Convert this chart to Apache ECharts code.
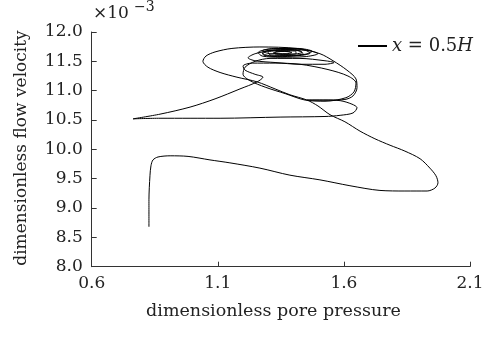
<!DOCTYPE html>
<html><head><meta charset="utf-8">
<script src="https://cdn.jsdelivr.net/npm/echarts@6/dist/echarts.min.js"></script>
<style>html,body{margin:0;padding:0;background:#fff}#c{width:487px;height:340px}</style>
</head><body><div id="c"></div>
<script>
// dimensionless pore pressure (x) and flow velocity (y, x10^-3), trajectory at x = 0.5H
const pressure = [0.827,0.827,0.831,0.835,0.843,0.863,0.911,0.982,1.069,1.148,1.267,1.386,1.505,1.624,1.743,1.842,1.930,1.961,1.973,1.965,1.941,1.902,1.842,1.783,1.723,1.664,1.604,
  1.545,1.497,1.454,1.386,1.327,1.256,1.176,1.109,1.061,1.041,1.053,1.089,1.156,1.267,1.414,1.505,1.557,1.612,1.648,1.652,1.636,1.604,1.545,1.454,1.525,1.585,1.632,1.652,1.636,1.585,1.525,1.347,1.109,0.871,0.764,0.871,0.990,1.089,1.188,1.256,
  1.279,1.247,1.208,1.200,1.236,1.327,1.426,1.537,1.616,1.648,1.640,1.608,1.525,1.446,1.367,1.288,1.228,1.200,1.208,1.248,1.307,
  1.426,1.525,1.561,1.525,1.426,1.327,1.248,1.220,1.248,1.307,1.386,1.466,1.497,1.446,1.347,1.276,1.260,1.307,1.386,1.446,1.466,1.426,1.327,1.280,1.292,1.367,1.426,1.438,1.386,1.307,1.299,1.355,1.410,1.410,1.355,1.319,1.359,1.394,1.371,
  1.307,1.276,1.327,1.418,1.474,1.446,1.355,1.284,1.276,1.339,1.406,1.434,1.386,1.327,1.331,1.386];
const velocity = [8.68,9.14,9.55,9.72,9.82,9.87,9.89,9.88,9.82,9.77,9.68,9.56,9.48,9.38,9.30,9.29,9.29,9.34,9.43,9.55,9.68,9.84,9.97,10.07,10.18,10.31,10.47,
  10.59,10.74,10.84,10.93,11.03,11.15,11.23,11.31,11.40,11.50,11.59,11.66,11.72,11.745,11.72,11.63,11.51,11.35,11.20,11.05,10.91,10.85,10.84,10.84,10.84,10.83,10.77,10.71,10.62,10.58,10.56,10.55,10.53,10.53,10.52,10.60,10.72,10.86,11.03,11.15,
  11.23,11.28,11.35,11.42,11.47,11.47,11.45,11.36,11.25,11.13,10.98,10.88,10.82,10.84,10.95,11.06,11.17,11.28,11.40,11.50,11.55,
  11.55,11.51,11.48,11.45,11.45,11.48,11.51,11.56,11.63,11.68,11.70,11.68,11.63,11.58,11.57,11.59,11.65,11.71,11.72,11.69,11.64,11.60,11.59,11.63,11.68,11.70,11.68,11.63,11.60,11.61,11.66,11.68,11.67,11.63,11.62,11.64,11.67,11.65,11.63,
  11.63,11.68,11.72,11.72,11.67,11.62,11.58,11.60,11.65,11.69,11.69,11.65,11.62,11.63,11.67,11.67];
const xTicks = [0.6, 1.1, 1.6, 2.1];
const yTicks = [8.0, 8.5, 9.0, 9.5, 10.0, 10.5, 11.0, 11.5, 12.0];
const seriesName = 'x = 0.5H';
const xTitle = 'dimensionless pore pressure';
const yTitle = 'dimensionless flow velocity';

const FONT = 'DejaVu Serif';
const chart = echarts.init(document.getElementById('c'), null, {renderer: 'canvas'});
const axisCommon = {
  axisLine: {show: true, lineStyle: {color: '#333', width: 1}},
  axisTick: {show: true, inside: true, length: 5, lineStyle: {color: '#333'}},
  splitLine: {show: false},
  axisLabel: {fontFamily: FONT, fontSize: 17, color: '#222', margin: 8}
};
chart.setOption({
  animation: false,
  backgroundColor: '#fff',
  grid: {left: 91.7, right: 17, top: 32, bottom: 73.3},
  xAxis: Object.assign({}, axisCommon, {
    type: 'value', min: xTicks[0], max: xTicks[xTicks.length - 1],
    axisTick: Object.assign({}, axisCommon.axisTick, {customValues: xTicks}),
    axisLabel: Object.assign({}, axisCommon.axisLabel, {customValues: xTicks, formatter: v => v.toFixed(1)})
  }),
  yAxis: Object.assign({}, axisCommon, {
    type: 'value', min: yTicks[0], max: yTicks[yTicks.length - 1], interval: 0.5,
    axisLabel: Object.assign({}, axisCommon.axisLabel, {margin: 9, formatter: v => v.toFixed(1)})
  }),
  legend: {
    show: true, left: 358, top: 36, padding: 0,
    icon: 'rect', itemWidth: 29, itemHeight: 2,
    data: [seriesName],
    formatter: () => '{i|x} = 0.5{i|H}',
    textStyle: {fontFamily: FONT, fontSize: 18, color: '#222', lineHeight: 20,
      rich: {i: {fontFamily: FONT, fontSize: 18, fontStyle: 'italic', color: '#222'}}}
  },
  graphic: [
    {type: 'text', x: 93, y: 14, style: {text: '×10', font: '17px "DejaVu Serif"', fill: '#222', align: 'left', verticalAlign: 'middle'}},
    {type: 'text', x: 134, y: 7, style: {text: '−3', font: '14px "DejaVu Serif"', fill: '#222', align: 'left', verticalAlign: 'middle'}},
    {type: 'text', x: 273.5, y: 311, style: {text: xTitle, font: '17.5px "DejaVu Serif"', fill: '#222', align: 'center', verticalAlign: 'middle'}},
    {type: 'text', x: 22, y: 148, rotation: Math.PI / 2, style: {text: yTitle, font: '17px "DejaVu Serif"', fill: '#222', align: 'center', verticalAlign: 'middle'}}
  ],
  series: [{
    name: seriesName, type: 'line', symbol: 'none', smooth: 0.3,
    lineStyle: {color: '#000', width: 1},
    itemStyle: {color: '#000'},
    data: pressure.map((p, i) => [p, velocity[i]])
  }]
});
</script>
</body></html>
